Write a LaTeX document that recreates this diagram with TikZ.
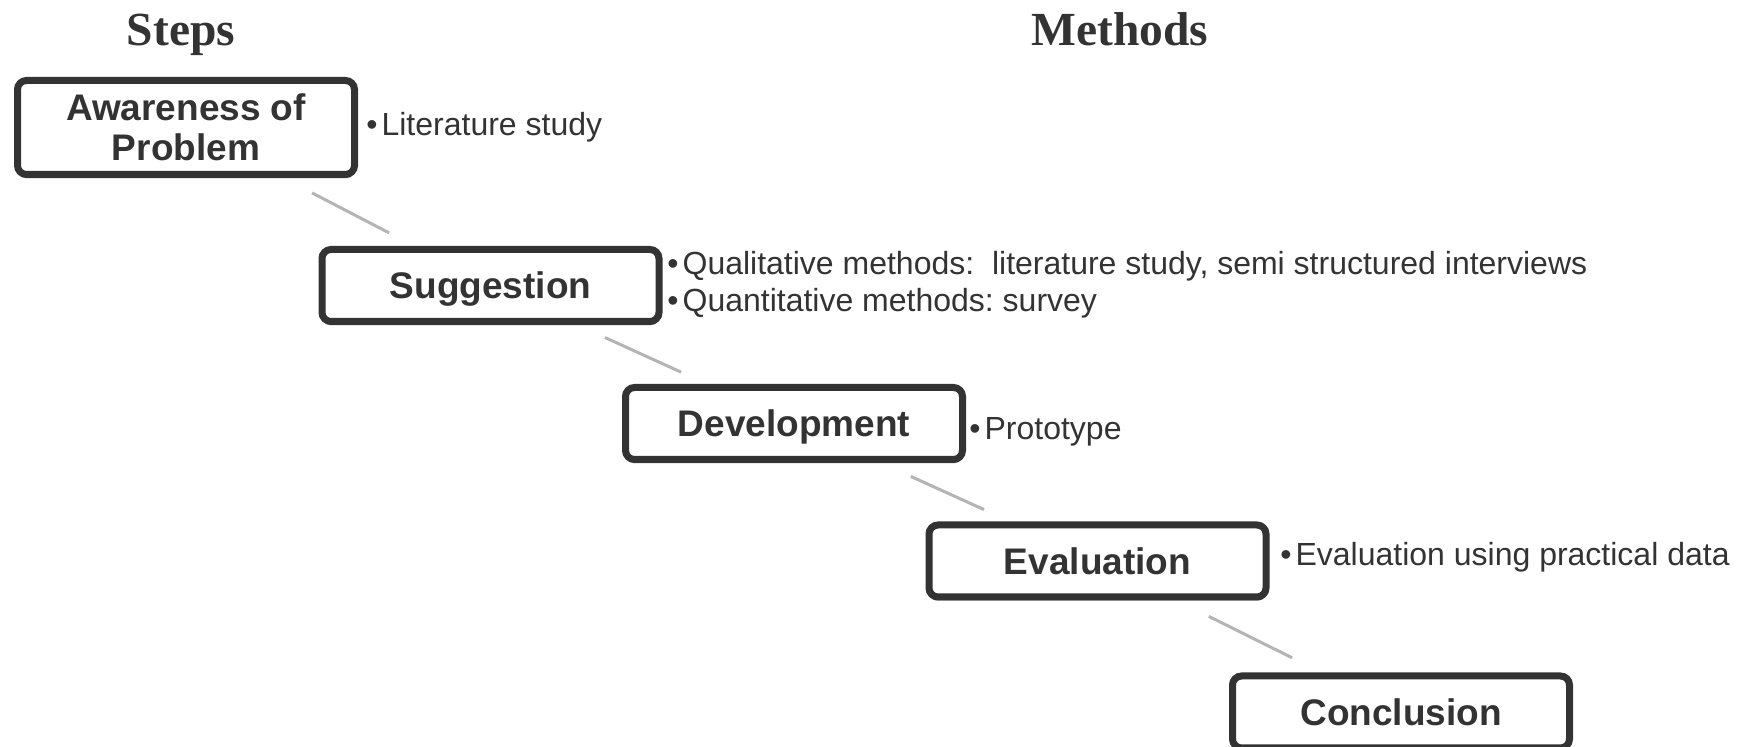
\documentclass[tikz,border=0pt]{standalone}
\usepackage{fontspec}
\setmainfont{Liberation Sans}
\newfontfamily\titlefont{Liberation Serif}
\usetikzlibrary{calc,shadows}
\definecolor{ink}{HTML}{333333}
\definecolor{linkgray}{HTML}{B4B4B4}
\frenchspacing
\begin{document}
\begin{tikzpicture}[x=0.5pt,y=-0.5pt,
  stepbox/.style={draw=ink, line width=3.5pt, rounded corners=4.5pt, fill=white,
    minimum width=168.5pt, minimum height=36pt, inner sep=0pt, align=center,
    font=\fontsize{18.5}{20}\selectfont\bfseries, text=ink,
    drop shadow={shadow xshift=0pt, shadow yshift=-2pt, opacity=0.25, fill=black}},
  oneline/.style={text height=13.3pt, text depth=0pt},
  heading/.style={font=\titlefont\fontsize{23.75}{26}\selectfont\bfseries, text=ink,
    anchor=base, inner sep=0pt},
  method/.style={font=\fontsize{16}{18}\selectfont, text=ink, anchor=base west, inner sep=0pt},
  link/.style={draw=linkgray, line width=1.5pt}]
\useasboundingbox (0,0) rectangle (1742,747);

% column headings
\node[heading] (hsteps) at (181,46) {Steps};
\node[heading] (hmethods) at (1120,46) {Methods};

% process steps
\node[stepbox, minimum height=47pt] (b1) at (186,127.5) {Awareness of\\Problem};
\node[stepbox, oneline] (b2) at (490.5,285.5) {Suggestion};
\node[stepbox, oneline] (b3) at (794,423.5) {Development};
\node[stepbox, oneline] (b4) at (1097.5,561) {Evaluation};
\node[stepbox, oneline] (b5) at (1401,712) {Conclusion};

% links between steps
\draw[link] ($(b1)!0.414!(b2)$) -- ($(b1)!0.667!(b2)$);
\draw[link] ($(b2)!0.377!(b3)$) -- ($(b2)!0.628!(b3)$);
\draw[link] ($(b3)!0.385!(b4)$) -- ($(b3)!0.626!(b4)$);
\draw[link] ($(b4)!0.367!(b5)$) -- ($(b4)!0.641!(b5)$);

% methods for each step
\node[method] (m1) at (366,135.5) {\textbullet\hspace{2pt}Literature study};
\node[method] (m2a) at (667,274.5) {\textbullet\hspace{2pt}Qualitative methods:\ \ literature study, semi structured interviews};
\node[method] (m2b) at (667,311.5) {\textbullet\hspace{2pt}Quantitative methods: survey};
\node[method] (m3) at (969,439.5) {\textbullet\hspace{2pt}Prototype};
\node[method] (m4) at (1280,565.5) {\textbullet\hspace{2pt}Evaluation using practical data};
\end{tikzpicture}
\end{document}
